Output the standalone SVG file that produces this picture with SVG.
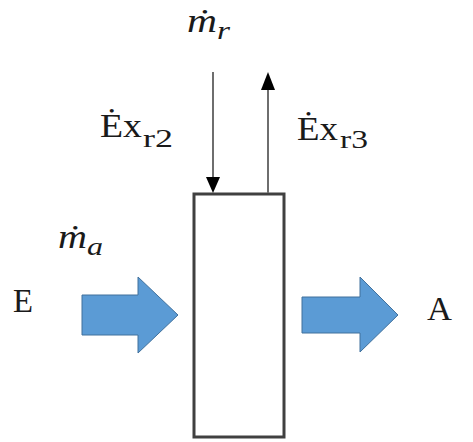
<svg xmlns="http://www.w3.org/2000/svg" width="473" height="442" viewBox="0 0 473 442">
<style>
.t{font-family:"Liberation Serif","DejaVu Serif",serif;fill:#1a1a1a;font-size:34px}
.s{font-family:"Liberation Serif","DejaVu Serif",serif;fill:#1a1a1a;font-size:26px}
.i{font-style:italic}
.ln{stroke:#6e6e6e;stroke-width:2;fill:none}
.ah{fill:#000}
.blk{fill:#5b9bd5;stroke:#41719c;stroke-width:1}
</style>
<rect width="473" height="442" fill="#fff"/>
<g id="box">
<rect x="194" y="194" width="90" height="243" fill="#fff" stroke="#404040" stroke-width="3"/>
</g>
<g id="connectors">
<line class="ln" x1="213" y1="72" x2="213" y2="180"/>
<polygon class="ah" points="206,177 220,177 213,193"/>
<line class="ln" x1="268" y1="86" x2="268" y2="193"/>
<polygon class="ah" points="261,90 275,90 268,72"/>
<polygon id="arrowIn" class="blk" points="82,295 138,295 138,277 178,315 138,353 138,335 82,335"/>
<polygon id="arrowOut" class="blk" points="302,297 360,297 360,277 398,315 360,352 360,333 302,333"/>
</g>
<g id="labels">
<g id="mr"><text class="t i" x="187" y="32" textLength="30" lengthAdjust="spacingAndGlyphs">ṁ</text><text class="s i" x="217" y="39" font-size="22" textLength="13" lengthAdjust="spacingAndGlyphs">r</text></g>
<g id="ex2"><text class="t" x="100" y="137" textLength="42" lengthAdjust="spacingAndGlyphs">Ėx</text><text class="s" x="143" y="147" textLength="30" lengthAdjust="spacingAndGlyphs">r2</text></g>
<g id="ex3"><text class="t" x="297" y="140" textLength="41" lengthAdjust="spacingAndGlyphs">Ėx</text><text class="s" x="340" y="148" textLength="28" lengthAdjust="spacingAndGlyphs">r3</text></g>
<g id="ma"><text class="t i" x="58" y="248" textLength="29" lengthAdjust="spacingAndGlyphs">ṁ</text><text class="s i" x="87" y="255" font-size="22" textLength="16" lengthAdjust="spacingAndGlyphs">a</text></g>
<text class="t" x="13" y="312" textLength="20" lengthAdjust="spacingAndGlyphs">E</text>
<text class="t" x="427" y="320" textLength="25" lengthAdjust="spacingAndGlyphs">A</text>
</g>
</svg>
